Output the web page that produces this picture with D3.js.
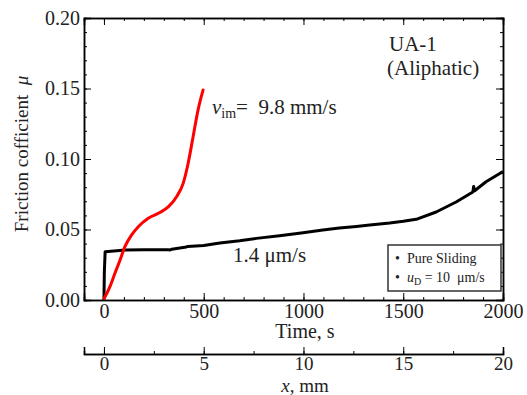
<!DOCTYPE html>
<html><head><meta charset="utf-8">
<script src="https://cdn.jsdelivr.net/npm/d3@7"></script>
<style>body{margin:0;background:#fff}svg{display:block}text{font-family:"Liberation Serif","Times New Roman",serif;fill:#222;white-space:pre}</style>
</head><body>
<svg id="c" width="527" height="395"></svg>
<script>
// Black: pure sliding at 1.4 µm/s  [time s, mu]
const blackT = [0, 2, 6, 50, 105, 200, 322, 330, 340, 413, 420, 500, 581, 680, 764, 880, 998, 1097, 1180, 1265, 1332, 1432, 1500, 1565, 1665, 1765, 1849, 1853, 1858, 1915, 1990, 2000];
const blackMu = [0.000, 0.020, 0.0343, 0.0348, 0.0355, 0.0356, 0.0357, 0.0354, 0.0360, 0.0376, 0.0380, 0.0387, 0.0405, 0.0420, 0.0437, 0.0456, 0.0477, 0.0497, 0.0510, 0.0522, 0.0532, 0.0546, 0.0558, 0.0572, 0.0624, 0.0695, 0.0766, 0.0805, 0.0775, 0.0839, 0.0903, 0.0910];
// Red: 9.8 mm/s
const redT = [1.5, 30, 55, 80, 105, 138, 172, 222, 280, 322, 364, 397, 422, 447, 472, 497];
const redMu = [0.0012, 0.0095, 0.019, 0.028, 0.0378, 0.046, 0.052, 0.058, 0.062, 0.066, 0.0733, 0.0827, 0.097, 0.116, 0.135, 0.149];
const yTicks = [0, 0.05, 0.10, 0.15, 0.20];
const xTicks = [0, 500, 1000, 1500, 2000];
const mmTicks = [0, 5, 10, 15, 20];

const svg = d3.select("#c");
const L = 84, R = 503, T = 18, B = 300, B2 = 354;
const x = d3.scaleLinear().domain([-100, 2000]).range([L, R]);
const y = d3.scaleLinear().domain([0, 0.2]).range([B, T]);
const xm = d3.scaleLinear().domain([-1, 20]).range([L, R]);

const fmtY = d3.format(".2f");
const yMinor = d3.range(0, 0.2001, 0.01);
const xMinor = d3.range(0, 2001, 100);
const mmMinor = d3.range(0, 20.01, 2.5);

function axisStyle(g){ g.select(".domain").attr("stroke","#000").attr("stroke-width",1.5); g.selectAll(".tick line").attr("stroke","#000").attr("stroke-width",1); }
function labStyle(fs){ return g=>{ g.select(".domain").remove(); g.selectAll("text").attr("font-size",fs).attr("fill","#222").attr("font-family","Liberation Serif"); }; }

// left
svg.append("g").attr("transform",`translate(${L},0)`).call(d3.axisRight(y).tickValues(yMinor).tickSize(3).tickFormat("")).call(axisStyle);
svg.append("g").attr("transform",`translate(${L},0)`).call(d3.axisRight(y).tickValues(yTicks).tickSize(7).tickFormat("")).call(axisStyle);
svg.append("g").attr("transform",`translate(${L},0)`).call(d3.axisLeft(y).tickValues(yTicks).tickSize(0).tickPadding(4).tickFormat(fmtY)).call(labStyle(20));
// right
svg.append("g").attr("transform",`translate(${R},0)`).call(d3.axisLeft(y).tickValues(yMinor).tickSize(3).tickFormat("")).call(axisStyle);
svg.append("g").attr("transform",`translate(${R},0)`).call(d3.axisLeft(y).tickValues(yTicks).tickSize(7).tickFormat("")).call(axisStyle);
// bottom
svg.append("g").attr("transform",`translate(0,${B})`).call(d3.axisTop(x).tickValues(xMinor).tickSize(3).tickFormat("")).call(axisStyle);
svg.append("g").attr("transform",`translate(0,${B})`).call(d3.axisTop(x).tickValues(xTicks).tickSize(7).tickFormat("")).call(axisStyle);
svg.append("g").attr("transform",`translate(0,${B})`).call(d3.axisBottom(x).tickValues(xTicks).tickSize(0).tickPadding(4).tickFormat(d3.format("d"))).call(labStyle(20));
// top
svg.append("g").attr("transform",`translate(0,${T})`).call(d3.axisBottom(x).tickValues(xMinor).tickSize(3).tickFormat("")).call(axisStyle);
svg.append("g").attr("transform",`translate(0,${T})`).call(d3.axisBottom(x).tickValues(xTicks).tickSize(7).tickFormat("")).call(axisStyle);
// second x axis (mm)
svg.append("g").attr("transform",`translate(0,${B2})`).call(d3.axisTop(xm).tickValues(mmMinor).tickSize(3).tickFormat("")).call(axisStyle);
svg.append("g").attr("transform",`translate(0,${B2})`).call(d3.axisTop(xm).tickValues(mmTicks).tickSize(7).tickFormat("")).call(axisStyle);
svg.append("g").attr("transform",`translate(0,${B2})`).call(d3.axisBottom(xm).tickValues(mmTicks).tickSize(0).tickPadding(2).tickFormat(d3.format("d"))).call(labStyle(19));

// lines
const line = d3.line().x(d=>x(d[0])).y(d=>y(d[1])).curve(d3.curveMonotoneX);
svg.append("path").datum(blackT.map((t,i)=>[t,blackMu[i]])).attr("d", d3.line().x(d=>x(d[0])).y(d=>y(d[1])))
  .attr("fill","none").attr("stroke","#000").attr("stroke-width",3).attr("stroke-linejoin","round");
svg.append("path").datum(redT.map((t,i)=>[t,redMu[i]])).attr("d", line)
  .attr("fill","none").attr("stroke","#f00").attr("stroke-width",3).attr("stroke-linecap","round");

// labels
svg.append("text").attr("x",305).attr("y",338).attr("text-anchor","middle").attr("font-size",20).text("Time, s");
const xl = svg.append("text").attr("x",305).attr("y",392).attr("text-anchor","middle").attr("font-size",19);
xl.append("tspan").attr("font-style","italic").text("x");
xl.append("tspan").text(", mm");
const yl = svg.append("text").attr("transform","translate(28,154) rotate(-90)").attr("text-anchor","middle").attr("font-size",19);
yl.append("tspan").text("Friction cofficient\u00a0\u00a0");
yl.append("tspan").attr("font-style","italic").text("μ");

svg.append("text").attr("x",389).attr("y",51).attr("font-size",21).text("UA-1");
svg.append("text").attr("x",387).attr("y",75).attr("font-size",21).text("(Aliphatic)");

const vt = svg.append("text").attr("x",212).attr("y",114).attr("font-size",21);
vt.append("tspan").attr("font-style","italic").text("v");
vt.append("tspan").attr("font-size",14).attr("dy",4).text("im");
vt.append("tspan").attr("dy",-4).text("=\u00a0\u00a09.8 mm/s");

svg.append("text").attr("x",233).attr("y",262).attr("font-size",21).text("1.4 μm/s");

// legend
svg.append("rect").attr("x",388).attr("y",245).attr("width",113).attr("height",46).attr("fill","#fff").attr("stroke","#333").attr("stroke-width",1.5);
svg.append("text").attr("x",395).attr("y",263).attr("font-size",14).text("•\u00a0\u00a0Pure Sliding");
const lg = svg.append("text").attr("x",395).attr("y",282).attr("font-size",14);
lg.append("tspan").text("•\u00a0\u00a0");
lg.append("tspan").attr("font-style","italic").text("u");
lg.append("tspan").attr("font-size",10).attr("dy",3).text("D");
lg.append("tspan").attr("dy",-3).text(" = 10\u00a0 μm/s");
</script>
</body></html>
